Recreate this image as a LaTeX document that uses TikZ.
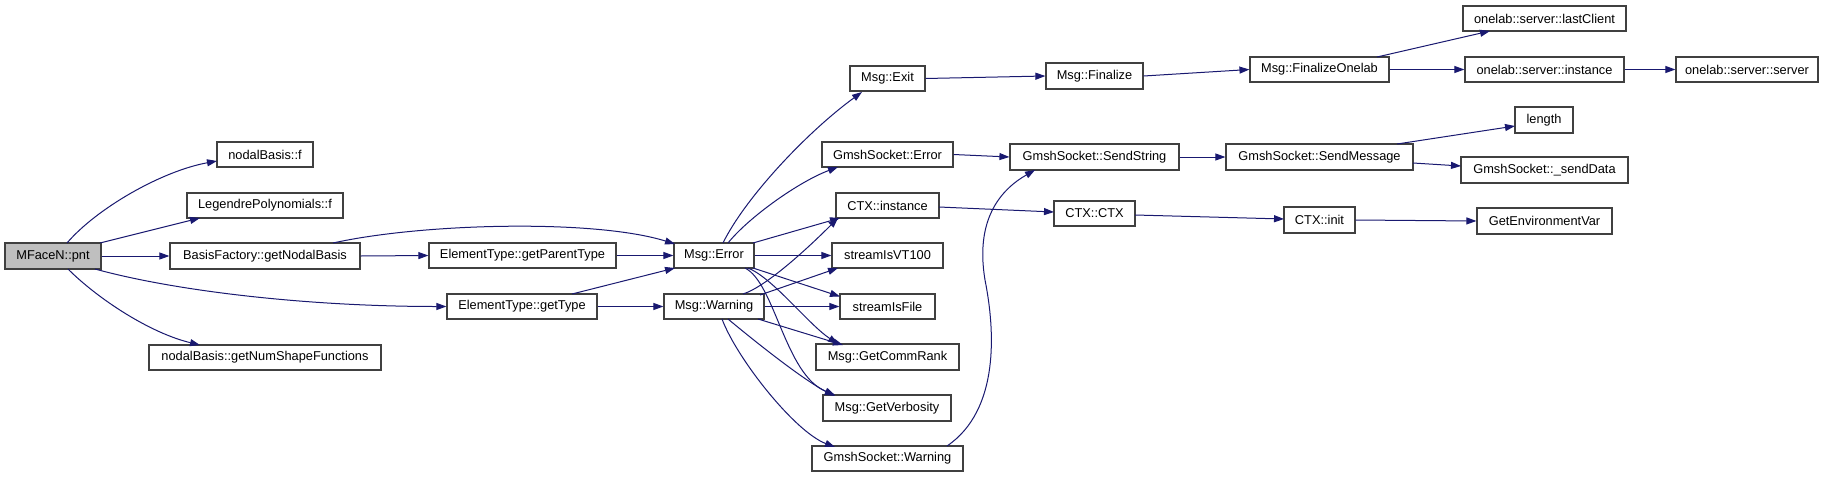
\documentclass[tikz,border=0pt]{standalone}
\usepackage{fontspec}
\setmainfont{Liberation Sans}
\usetikzlibrary{arrows.meta}
\definecolor{edgeblue}{RGB}{25,25,112}
\definecolor{boxborder}{RGB}{64,64,64}
\definecolor{rootfill}{RGB}{191,191,191}
\begin{document}
\begin{tikzpicture}[x=1pt,y=-1pt,
  box/.style={draw=boxborder, line width=1.2pt, rectangle, inner sep=0pt, fill=white,
    minimum height=25pt, font=\fontsize{12.8}{14}\selectfont},
  rootbox/.style={box, fill=rootfill},
  edge/.style={draw=edgeblue, line width=1pt, -{Triangle[length=10pt,width=7pt]}}
]
\fill[white] (0,0) rectangle (1825,477);
\useasboundingbox (0,0) rectangle (1825,477);

% nodes
\node[rootbox, minimum width=96pt, minimum height=26pt] (pnt) at (53,256) {MFaceN::pnt};
\node[box, minimum width=96pt] (nbf) at (265,154.5) {nodalBasis::f};
\node[box, minimum width=156pt] (leg) at (265,205.5) {LegendrePolynomials::f};
\node[box, minimum width=190pt, minimum height=26pt] (bfac) at (265,256) {BasisFactory::getNodalBasis};
\node[box, minimum width=232pt] (nsf) at (265,357.5) {nodalBasis::getNumShapeFunctions};
\node[box, minimum width=187pt] (gpt) at (522.5,255.5) {ElementType::getParentType};
\node[box, minimum width=150pt] (gty) at (522,306.5) {ElementType::getType};
\node[box, minimum width=80pt] (err) at (714,255.5) {Msg::Error};
\node[box, minimum width=100pt] (warn) at (714,306.5) {Msg::Warning};
\node[box, minimum width=75pt] (exit) at (887.5,78.5) {Msg::Exit};
\node[box, minimum width=131pt] (gse) at (887.5,154.5) {GmshSocket::Error};
\node[box, minimum width=103pt] (ctxi) at (887.5,205.5) {CTX::instance};
\node[box, minimum width=111pt] (vt) at (887.5,255.5) {streamIsVT100};
\node[box, minimum width=95pt] (sif) at (887.5,306.5) {streamIsFile};
\node[box, minimum width=143pt, minimum height=26pt] (gcr) at (887.5,357) {Msg::GetCommRank};
\node[box, minimum width=128pt, minimum height=26pt] (gv) at (887,408) {Msg::GetVerbosity};
\node[box, minimum width=151pt] (gsw) at (887.5,458.5) {GmshSocket::Warning};
\node[box, minimum width=97pt, minimum height=26pt] (fin) at (1094.5,76) {Msg::Finalize};
\node[box, minimum width=169pt, minimum height=26pt] (ss) at (1094.5,157) {GmshSocket::SendString};
\node[box, minimum width=81pt] (ctx) at (1094.5,213.5) {CTX::CTX};
\node[box, minimum width=139pt] (fo) at (1319.5,69.5) {Msg::FinalizeOnelab};
\node[box, minimum width=187pt, minimum height=26pt] (sm) at (1319.5,157) {GmshSocket::SendMessage};
\node[box, minimum width=71pt, minimum height=26pt] (init) at (1319.5,220) {CTX::init};
\node[box, minimum width=163pt] (lc) at (1544.5,18.5) {onelab::server::lastClient};
\node[box, minimum width=159pt] (inst) at (1544.5,69.5) {onelab::server::instance};
\node[box, minimum width=58pt, minimum height=26pt] (len) at (1544,120) {length};
\node[box, minimum width=167pt, minimum height=26pt] (sd) at (1544.5,170) {GmshSocket::\_sendData};
\node[box, minimum width=135pt, minimum height=26pt] (gev) at (1544.5,221) {GetEnvironmentVar};
\node[box, minimum width=142pt] (srv) at (1747,69.5) {onelab::server::server};

\coordinate (sbend) at (985,280);

% edges from MFaceN::pnt
\draw[edge] ([shift={(14,-13)}]pnt.center) .. controls +(30,-35) and +(-55,10) .. ([shift={(-48,6.5)}]nbf.center);
\draw[edge] ([shift={(47,-13)}]pnt.center) -- ([shift={(-65,12.5)}]leg.center);
\draw[edge] (pnt.east) -- (bfac.west);
\draw[edge] ([shift={(42,13)}]pnt.center) .. controls +(80,22) and +(-140,0) .. (gty.west);
\draw[edge] ([shift={(15,13)}]pnt.center) .. controls +(30,30) and +(-50,-12) .. ([shift={(-65,-12.5)}]nsf.center);

% BasisFactory / ElementType
\draw[edge] ([shift={(68,-13)}]bfac.center) .. controls +(90,-20) and +(-80,-25) .. ([shift={(-39,-11.5)}]err.center);
\draw[edge] (bfac.east) -- (gpt.west);
\draw[edge] (gpt.east) -- (err.west);
\draw[edge] ([shift={(50,-12.5)}]gty.center) -- ([shift={(-39,12.5)}]err.center);
\draw[edge] (gty.east) -- (warn.west);

% Msg::Error
\draw[edge] ([shift={(9,-12.5)}]err.center) .. controls +(22,-45) and +(-55,40) .. ([shift={(-25.5,13.5)}]exit.center);
\draw[edge] ([shift={(14,-12.5)}]err.center) .. controls +(20,-25) and +(-40,15) .. ([shift={(-49.5,12.5)}]gse.center);
\draw[edge] ([shift={(39,-12.5)}]err.center) -- ([shift={(-47.5,12.5)}]ctxi.center);
\draw[edge] (err.east) -- (vt.west);
\draw[edge] ([shift={(39,12.5)}]err.center) -- ([shift={(-47.5,-10)}]sif.center);
\draw[edge] ([shift={(34,12.5)}]err.center) .. controls +(25,10) and +(-30,-20) .. ([shift={(-49.5,-13)}]gcr.center);
\draw[edge] ([shift={(31,12.5)}]err.center) .. controls +(30,15) and +(-50,-20) .. ([shift={(-52,-13)}]gv.center);

% Msg::Warning
\draw[edge] ([shift={(29,-12.5)}]warn.center) .. controls +(25,-8) and +(-25,25) .. ([shift={(-49.5,12.5)}]ctxi.center);
\draw[edge] ([shift={(46,-11.5)}]warn.center) -- ([shift={(-49.5,12.5)}]vt.center);
\draw[edge] (warn.east) -- (sif.west);
\draw[edge] ([shift={(44,12.5)}]warn.center) -- ([shift={(-44.5,-12)}]gcr.center);
\draw[edge] ([shift={(14,12.5)}]warn.center) .. controls +(30,25) and +(-30,-15) .. ([shift={(-52,-12)}]gv.center);
\draw[edge] ([shift={(8,12.5)}]warn.center) .. controls +(15,40) and +(-40,-15) .. ([shift={(-52.5,-11.5)}]gsw.center);

% upper chain
\draw[edge] (exit.east) -- (fin.west);
\draw[edge] (fin.east) -- (fo.west);
\draw[edge] ([shift={(57.5,-12.5)}]fo.center) -- ([shift={(-54.5,12.5)}]lc.center);
\draw[edge] (fo.east) -- (inst.west);
\draw[edge] (inst.east) -- (srv.west);

% socket chain
\draw[edge] (gse.east) -- (ss.west);
\draw[edge] (ss.east) -- (sm.west);
\draw[edge] ([shift={(77.5,-13)}]sm.center) -- ([shift={(-29,6)}]len.center);
\draw[edge] ([shift={(93.5,6)}]sm.center) -- ([shift={(-83.5,-4)}]sd.center);
\draw[edge] ([shift={(59.5,-12.5)}]gsw.center) .. controls +(53,-36) and (995,330) .. (sbend)
  .. controls (975,220) and +(-35,20) .. ([shift={(-59.5,13)}]ss.center);

% CTX chain
\draw[edge] ([shift={(51.5,1.5)}]ctxi.center) -- ([shift={(-40.5,-1.5)}]ctx.center);
\draw[edge] ([shift={(40.5,1.5)}]ctx.center) -- ([shift={(-35.5,-1)}]init.center);
\draw[edge] (init.east) -- (gev.west);
\end{tikzpicture}
\end{document}
